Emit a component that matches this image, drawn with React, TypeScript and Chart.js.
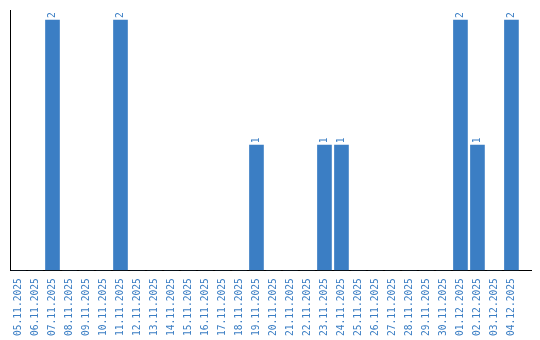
import React, { useEffect, useRef } from "react";
import { Chart, registerables } from "chart.js";

Chart.register(...registerables);

const dates = [
  "05.11.2025", "06.11.2025", "07.11.2025", "08.11.2025", "09.11.2025", "10.11.2025",
  "11.11.2025", "12.11.2025", "13.11.2025", "14.11.2025", "15.11.2025", "16.11.2025",
  "17.11.2025", "18.11.2025", "19.11.2025", "20.11.2025", "21.11.2025", "22.11.2025",
  "23.11.2025", "24.11.2025", "25.11.2025", "26.11.2025", "27.11.2025", "28.11.2025",
  "29.11.2025", "30.11.2025", "01.12.2025", "02.12.2025", "03.12.2025", "04.12.2025",
];
const counts = [
  0, 0, 2, 0, 0, 0,
  2, 0, 0, 0, 0, 0,
  0, 0, 1, 0, 0, 0,
  1, 1, 0, 0, 0, 0,
  0, 0, 2, 1, 0, 2,
];

const BLUE = "#3b7ec4";
const FONT = "DejaVu Sans Mono";

const valueLabels = {
  id: "valueLabels",
  afterDatasetsDraw(chart: any) {
    const ctx = chart.ctx;
    const meta = chart.getDatasetMeta(0);
    meta.data.forEach((el: any, i: number) => {
      const v = counts[i];
      if (!v) return;
      ctx.save();
      ctx.fillStyle = BLUE;
      ctx.font = `9.6px "${FONT}"`;
      ctx.textAlign = "left";
      ctx.textBaseline = "middle";
      ctx.translate(el.x, el.y - 2);
      ctx.rotate(-Math.PI / 2);
      ctx.fillText(String(v), 0, 0);
      ctx.restore();
    });
  },
};

export default function App() {
  const ref = useRef<HTMLCanvasElement>(null);
  useEffect(() => {
    if (!ref.current) return;
    const chart = new Chart(ref.current, {
      type: "bar",
      data: {
        datasets: [
          {
            data: counts.map((c, i) => ({ x: i, y: c })),
            backgroundColor: BLUE,
            borderWidth: 0,
            barThickness: 14,
          },
        ],
      },
      options: {
        animation: false,
        responsive: false,
        layout: { padding: { left: 10, top: 10, right: 9, bottom: -4 } },
        plugins: { legend: { display: false }, tooltip: { enabled: false } },
        scales: {
          x: {
            type: "linear",
            offset: false,
            min: -0.5,
            max: 30.15,
            grid: { display: false, drawTicks: false },
            border: { display: true, color: "#000", width: 1 },
            afterBuildTicks: (scale: any) => {
              scale.ticks = dates.map((_, i) => ({ value: i }));
            },
            ticks: {
              autoSkip: false,
              minRotation: 90,
              maxRotation: 90,
              padding: 8,
              color: BLUE,
              font: { family: FONT, size: 9.6 },
              callback: (v: any) => dates[Math.round(Number(v))] ?? "",
            },
          },
          y: {
            min: 0,
            max: 2.08,
            grid: { display: false, drawTicks: false },
            border: { display: true, color: "#000", width: 1 },
            ticks: { display: false },
          },
        },
      },
      plugins: [valueLabels],
    });
    return () => chart.destroy();
  }, []);
  return (
    <div style={{ position: "fixed", left: 0, top: 0, width: 540, height: 340, background: "#fff" }}>
      <canvas ref={ref} width={540} height={340} />
    </div>
  );
}
